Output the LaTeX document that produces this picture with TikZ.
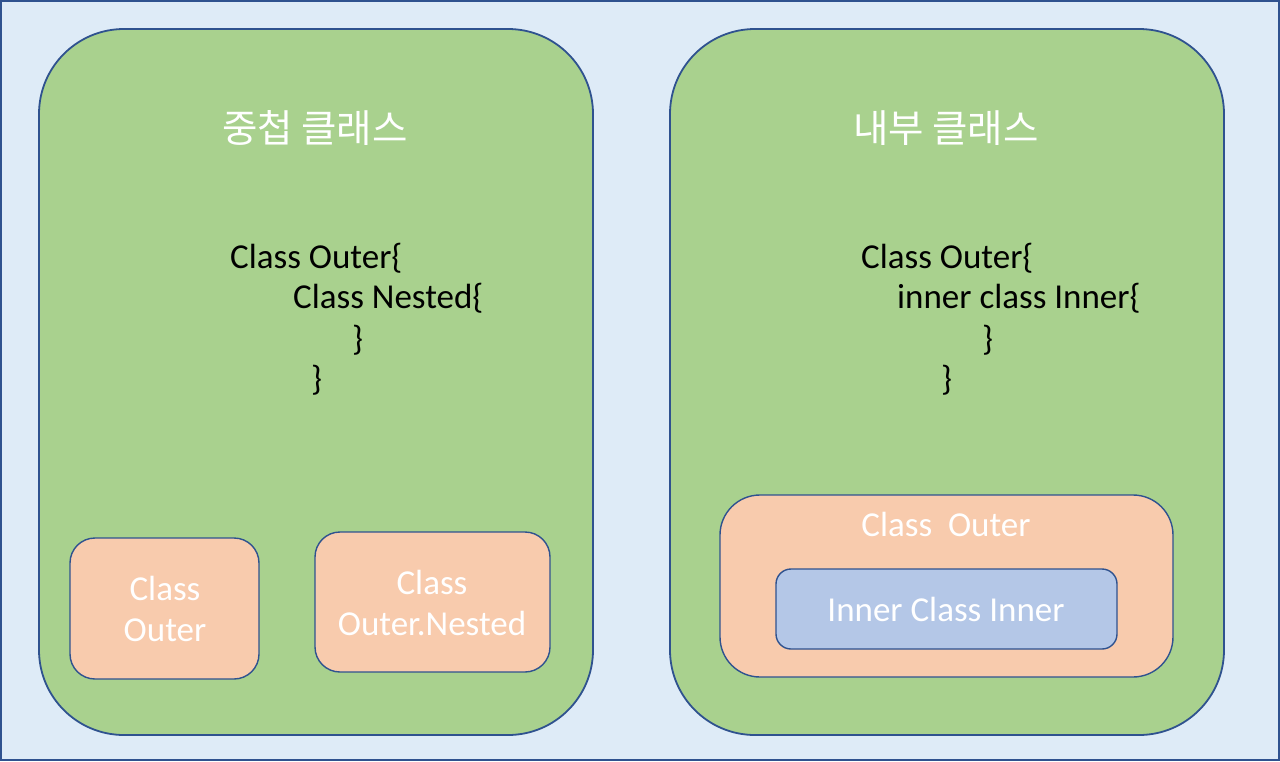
\documentclass[tikz,border=0pt]{standalone}
\usepackage{fontspec}
\setmainfont{Carlito}
\newfontfamily\kr{Noto Sans CJK KR}
\definecolor{bgblue}{HTML}{DEEBF7}
\definecolor{edgeblue}{HTML}{2F528F}
\definecolor{leaf}{HTML}{A9D18E}
\definecolor{peach}{HTML}{F8CBAD}
\definecolor{paleblue}{HTML}{B4C7E7}
\tikzset{
  panel/.style={draw=edgeblue, line width=1.8pt, fill=leaf, rounded corners=85pt, inner sep=0pt},
  peachbox/.style={draw=edgeblue, line width=1.4pt, fill=peach, inner sep=0pt},
  bluebox/.style={draw=edgeblue, line width=1.4pt, fill=paleblue, rounded corners=15pt, inner sep=0pt},
  title/.style={text=white, font=\kr\fontsize{38.5}{46}\selectfont, inner sep=0pt},
  code/.style={text=black, font=\fontsize{35}{42}\selectfont, anchor=base west, inner sep=0pt},
  boxtext/.style={text=white, font=\fontsize{35}{41}\selectfont, align=center, inner sep=0pt}
}
\begin{document}
\begin{tikzpicture}[x=1pt,y=-1pt]
\useasboundingbox (0,0) rectangle (1280,761);
\node[draw=edgeblue, line width=2pt, fill=bgblue, minimum width=1278pt, minimum height=759pt, inner sep=0pt] (frame) at (640,380.5) {};
% panels
\node[panel, minimum width=554pt, minimum height=706pt] (left) at (316,382) {};
\node[panel, minimum width=554pt, minimum height=706pt] (right) at (947,382) {};
% titles
\node[title] (t1) at (315,128) {중첩 클래스};
\node[title] (t2) at (946,128) {내부 클래스};
% left code
\node[code] (l1) at (230,268) {Class Outer\{};
\node[code] (l2) at (293,308) {Class Nested\{};
\node[code] (l3) at (352,350) {\}};
\node[code] (l4) at (311,390) {\}};
% right code
\node[code] (r1) at (861,268) {Class Outer\{};
\node[code] (r2) at (897,308) {inner class Inner\{};
\node[code] (r3) at (982,350) {\}};
\node[code] (r4) at (941,390) {\}};
% left boxes
\node[peachbox, rounded corners=25pt, minimum width=189pt, minimum height=141pt] (b1) at (164.5,608.5) {};
\node[boxtext] at (165,609) {Class\\Outer};
\node[peachbox, rounded corners=25pt, minimum width=235pt, minimum height=140pt] (b2) at (432.5,602) {};
\node[boxtext] at (432,603) {Class\\Outer.Nested};
% right boxes
\node[peachbox, rounded corners=40pt, minimum width=453pt, minimum height=182pt] (b3) at (946.5,586) {};
\node[boxtext] (b3t) at (946,524) {Class\ \ Outer};
\node[bluebox, minimum width=341pt, minimum height=80pt] (b4) at (946.5,609) {};
\node[boxtext] (b4t) at (946,609) {Inner Class Inner};
\end{tikzpicture}
\end{document}
